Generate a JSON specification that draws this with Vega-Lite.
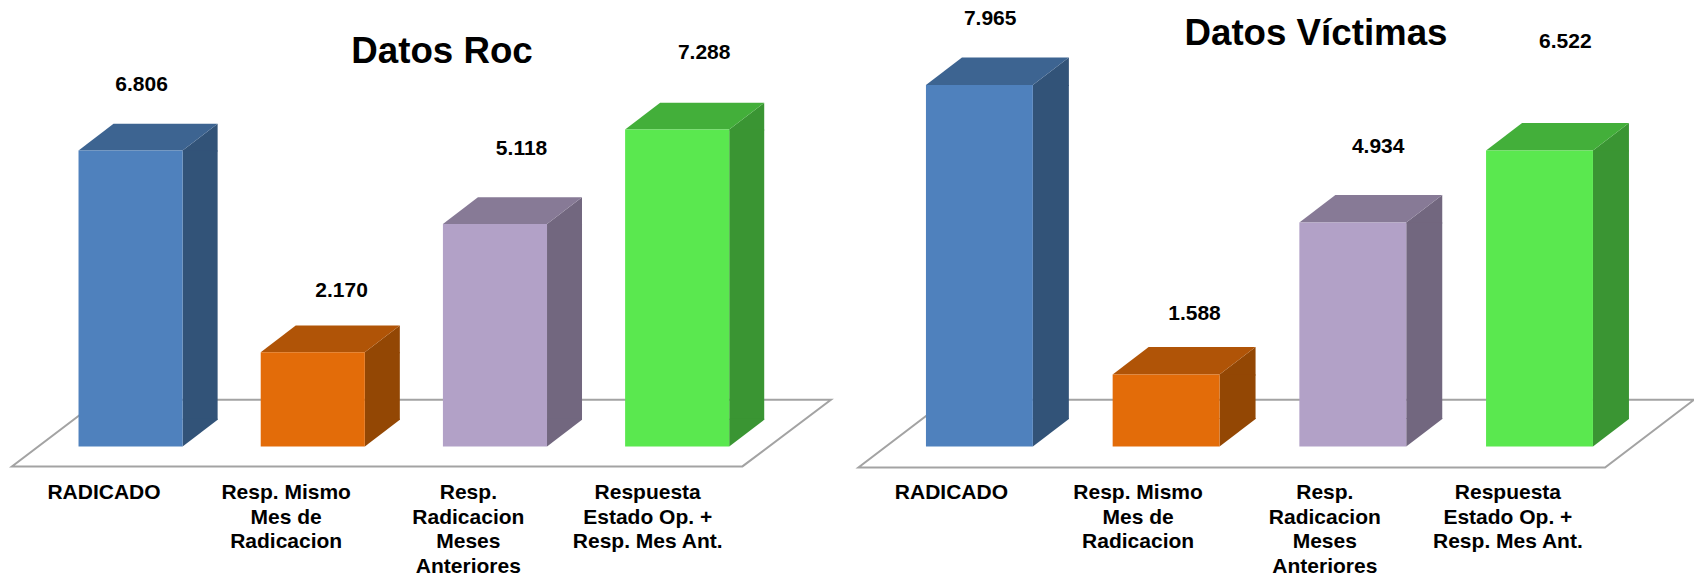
{
"$schema":"https://vega.github.io/schema/vega-lite/v6.json",
"padding":0,
"spacing":0,
"bounds":"flush",
"background":"white",
"config":{"view":{"stroke":null},"concat":{"spacing":0}},
"datasets":{
"roc":[
{"categoria":"RADICADO","valor":6806,"etiqueta":"6.806"},
{"categoria":"Resp. Mismo Mes de Radicacion","valor":2170,"etiqueta":"2.170"},
{"categoria":"Resp. Radicacion Meses Anteriores","valor":5118,"etiqueta":"5.118"},
{"categoria":"Respuesta Estado Op. + Resp. Mes Ant.","valor":7288,"etiqueta":"7.288"}],
"victimas":[
{"categoria":"RADICADO","valor":7965,"etiqueta":"7.965"},
{"categoria":"Resp. Mismo Mes de Radicacion","valor":1588,"etiqueta":"1.588"},
{"categoria":"Resp. Radicacion Meses Anteriores","valor":4934,"etiqueta":"4.934"},
{"categoria":"Respuesta Estado Op. + Resp. Mes Ant.","valor":6522,"etiqueta":"6.522"}]
},
"hconcat":[
{
"width":847,"height":446.5,
"data":{"name":"roc"},
"title":{"text":"Datos Roc","font":"Liberation Sans","fontSize":36.7,"fontWeight":"bold","color":"black","anchor":"middle","frame":"group","dx":18.5,"offset":-100,"baseline":"alphabetic"},
"encoding":{
"x":{"field":"categoria","type":"nominal","sort":null,"title":null,
"scale":{"paddingInner":0.4286,"paddingOuter":0.5387,"align":0.4},
"axis":{"domain":false,"ticks":false,"grid":false,"labelAngle":0,"labelAlign":"center","labelBaseline":"top","labelFont":"Liberation Sans","labelFontSize":21,"labelFontWeight":"bold","labelColor":"black","labelLimit":0,"labelOverlap":false,"labelPadding":35,"labelLineHeight":24.5,
"labelOffset":{"condition":{"test":"datum.value==='Respuesta Estado Op. + Resp. Mes Ant.'","value":-29.5},"value":-26.6},
"labelExpr":"{'RADICADO':'RADICADO','Resp. Mismo Mes de Radicacion':['Resp. Mismo','Mes de','Radicacion'],'Resp. Radicacion Meses Anteriores':['Resp.','Radicacion','Meses','Anteriores'],'Respuesta Estado Op. + Resp. Mes Ant.':['Respuesta','Estado Op. +','Resp. Mes Ant.']}[datum.label]"}},
"y":{"field":"valor","type":"quantitative","title":null,"axis":null,"stack":null,"scale":{"domain":[0,10267],"nice":false,"zero":true}}
},
"resolve":{"scale":{"color":"independent"}},
"layer":[
{"transform":[{"filter":"datum.categoria==='RADICADO'"}],
"mark":{"type":"point","filled":false,"stroke":"#A3A3A3","strokeWidth":2,"opacity":1,"size":40000,"shape":"M-1.1865,0.199 L6.1185,0.199 L7.0035,-0.468 L-0.3065,-0.468 Z","clip":false},
"encoding":{"y":{"datum":0,"axis":null,"scale":{"domain":[0,10267],"nice":false}}}},
{"mark":{"type":"point","filled":true,"opacity":1,"strokeWidth":0,"size":40000,"shape":"M0.5205,0.01 L0.5205,0 L0.8705,-0.267 L0.8705,0.01 Z"},
"encoding":{"color":{"field":"categoria","type":"nominal","sort":null,"legend":null,"scale":{"range":["#325378","#934704","#72677F","#3A9533"]}}}},
{"mark":{"type":"bar","width":35,"xOffset":69.55,"y2Offset":-26.7},
"encoding":{"y2":{"datum":0},"color":{"field":"categoria","type":"nominal","sort":null,"legend":null,"scale":{"range":["#325378","#934704","#72677F","#3A9533"]}}}},
{"mark":{"type":"point","filled":true,"opacity":1,"strokeWidth":0,"size":40000,"shape":"M0.5205,0 L0.8705,-0.267 L0.8705,-0.277 L0.5205,-0.277 Z"},
"encoding":{"y":{"datum":0,"axis":null,"scale":{"domain":[0,10267],"nice":false}},"color":{"field":"categoria","type":"nominal","sort":null,"legend":null,"scale":{"range":["#325378","#934704","#72677F","#3A9533"]}}}},
{"mark":{"type":"point","filled":true,"opacity":1,"strokeWidth":0,"size":40000,"shape":"M-0.5205,0 L0.5205,0 L0.8705,-0.267 L-0.1705,-0.267 Z"},
"encoding":{"color":{"field":"categoria","type":"nominal","sort":null,"legend":null,"scale":{"range":["#3D6491","#B05407","#877A96","#43AF3A"]}}}},
{"mark":{"type":"bar","width":104.1},
"encoding":{"color":{"field":"categoria","type":"nominal","sort":null,"legend":null,"scale":{"range":["#4F81BD","#E36C09","#B2A1C7","#5AE84F"]}}}},
{"mark":{"type":"text","font":"Liberation Sans","fontSize":21,"fontWeight":"bold","color":"black","baseline":"middle","align":"center",
"dx":{"expr":"{'RADICADO':11,'Resp. Mismo Mes de Radicacion':28.8,'Resp. Radicacion Meses Anteriores':26.6,'Respuesta Estado Op. + Resp. Mes Ant.':27}[datum.categoria]"},
"dy":{"expr":"{'RADICADO':-65.6,'Resp. Mismo Mes de Radicacion':-61,'Resp. Radicacion Meses Anteriores':-74.8,'Respuesta Estado Op. + Resp. Mes Ant.':-77}[datum.categoria]"}},
"encoding":{"text":{"field":"etiqueta","type":"nominal"}}}
]
},
{
"width":847,"height":446.5,
"data":{"name":"victimas"},
"title":{"text":"Datos Víctimas","font":"Liberation Sans","fontSize":36.7,"fontWeight":"bold","color":"black","anchor":"middle","frame":"group","dx":45.5,"offset":-82,"baseline":"alphabetic"},
"encoding":{
"x":{"field":"categoria","type":"nominal","sort":null,"title":null,
"scale":{"paddingInner":0.4269,"paddingOuter":0.4818,"align":0.4386},
"axis":{"domain":false,"ticks":false,"grid":false,"labelAngle":0,"labelAlign":"center","labelBaseline":"top","labelFont":"Liberation Sans","labelFontSize":21,"labelFontWeight":"bold","labelColor":"black","labelLimit":0,"labelOverlap":false,"labelPadding":35,"labelLineHeight":24.5,
"labelOffset":{"condition":{"test":"datum.value==='Respuesta Estado Op. + Resp. Mes Ant.'","value":-31.6},"value":-28},
"labelExpr":"{'RADICADO':'RADICADO','Resp. Mismo Mes de Radicacion':['Resp. Mismo','Mes de','Radicacion'],'Resp. Radicacion Meses Anteriores':['Resp.','Radicacion','Meses','Anteriores'],'Respuesta Estado Op. + Resp. Mes Ant.':['Respuesta','Estado Op. +','Resp. Mes Ant.']}[datum.label]"}},
"y":{"field":"valor","type":"quantitative","title":null,"axis":null,"stack":null,"scale":{"domain":[0,9837],"nice":false,"zero":true}}
},
"resolve":{"scale":{"color":"independent"}},
"layer":[
{"transform":[{"filter":"datum.categoria==='RADICADO'"}],
"mark":{"type":"point","filled":false,"stroke":"#A3A3A3","strokeWidth":2,"opacity":1,"size":40000,"shape":"M-1.21,0.21 L6.2565,0.21 L7.1465,-0.468 L-0.32,-0.468 Z","clip":false},
"encoding":{"y":{"datum":0,"axis":null,"scale":{"domain":[0,9837],"nice":false}}}},
{"mark":{"type":"point","filled":true,"opacity":1,"strokeWidth":0,"size":40000,"shape":"M0.5345,0.01 L0.5345,0 L0.8945,-0.275 L0.8945,0.01 Z"},
"encoding":{"color":{"field":"categoria","type":"nominal","sort":null,"legend":null,"scale":{"range":["#325378","#934704","#72677F","#3A9533"]}}}},
{"mark":{"type":"bar","width":36,"xOffset":71.45,"y2Offset":-27.5},
"encoding":{"y2":{"datum":0},"color":{"field":"categoria","type":"nominal","sort":null,"legend":null,"scale":{"range":["#325378","#934704","#72677F","#3A9533"]}}}},
{"mark":{"type":"point","filled":true,"opacity":1,"strokeWidth":0,"size":40000,"shape":"M0.5345,0 L0.8945,-0.275 L0.8945,-0.285 L0.5345,-0.285 Z"},
"encoding":{"y":{"datum":0,"axis":null,"scale":{"domain":[0,9837],"nice":false}},"color":{"field":"categoria","type":"nominal","sort":null,"legend":null,"scale":{"range":["#325378","#934704","#72677F","#3A9533"]}}}},
{"mark":{"type":"point","filled":true,"opacity":1,"strokeWidth":0,"size":40000,"shape":"M-0.5345,0 L0.5345,0 L0.8945,-0.275 L-0.1745,-0.275 Z"},
"encoding":{"color":{"field":"categoria","type":"nominal","sort":null,"legend":null,"scale":{"range":["#3D6491","#B05407","#877A96","#43AF3A"]}}}},
{"mark":{"type":"bar","width":106.9},
"encoding":{"color":{"field":"categoria","type":"nominal","sort":null,"legend":null,"scale":{"range":["#4F81BD","#E36C09","#B2A1C7","#5AE84F"]}}}},
{"mark":{"type":"text","font":"Liberation Sans","fontSize":21,"fontWeight":"bold","color":"black","baseline":"middle","align":"center",
"dx":{"expr":"{'RADICADO':10.8,'Resp. Mismo Mes de Radicacion':28.4,'Resp. Radicacion Meses Anteriores':25.4,'Respuesta Estado Op. + Resp. Mes Ant.':25.8}[datum.categoria]"},
"dy":{"expr":"{'RADICADO':-66,'Resp. Mismo Mes de Radicacion':-60.7,'Resp. Radicacion Meses Anteriores':-76,'Respuesta Estado Op. + Resp. Mes Ant.':-108.9}[datum.categoria]"}},
"encoding":{"text":{"field":"etiqueta","type":"nominal"}}}
]
}
]
}
